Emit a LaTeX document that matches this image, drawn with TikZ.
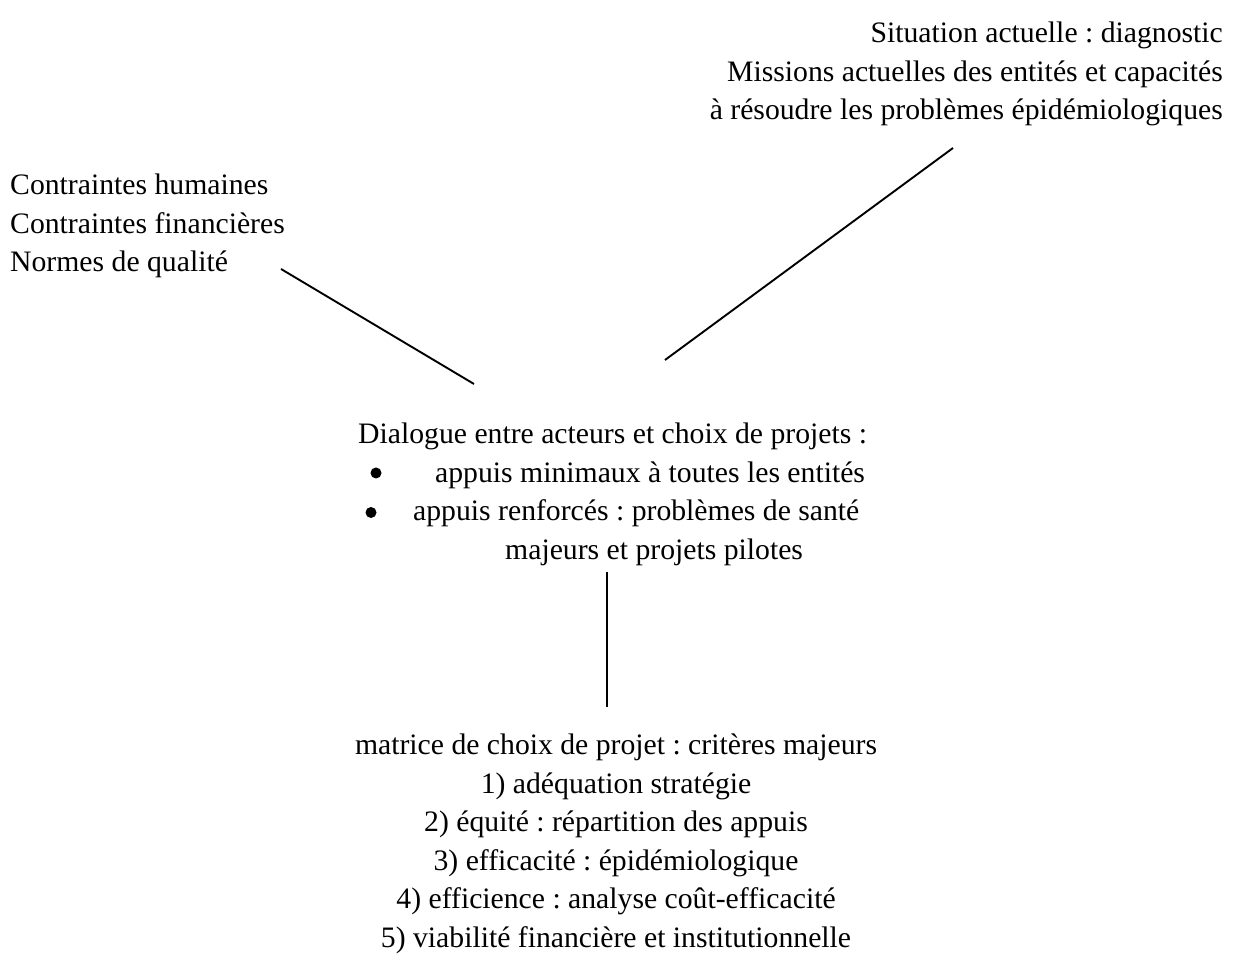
\documentclass[tikz,border=0pt]{standalone}
\usepackage{fontspec}
\setmainfont{Liberation Serif}
\frenchspacing
\begin{document}
\begin{tikzpicture}[x=1pt,y=1pt,
  txt/.style={inner sep=0pt, font=\fontsize{29.7}{38.5}\selectfont},
  link/.style={line width=1.9pt, black},
  dot/.style={circle, fill=black, inner sep=0pt, minimum size=11pt}]
\useasboundingbox (0,0) rectangle (1233,960);

% current situation (top right)
\node[txt, anchor=base east] (sit1) at (1223,917) {Situation actuelle : diagnostic};
\node[txt, anchor=base east] (sit2) at (1223,878.5) {Missions actuelles des entités et capacités};
\node[txt, anchor=base east] (sit3) at (1223,840) {à résoudre les problèmes épidémiologiques};

% constraints (left)
\node[txt, anchor=base west] (con1) at (10,765) {Contraintes humaines};
\node[txt, anchor=base west] (con2) at (10,726.5) {Contraintes financières};
\node[txt, anchor=base west] (con3) at (10,688) {Normes de qualité};

% dialogue between actors
\node[txt, anchor=base west] (dia0) at (358,516) {Dialogue entre acteurs et choix de projets :};
\node[dot] (b1) at (376,487) {};
\node[txt, anchor=base west] (dia1) at (435,477.5) {appuis minimaux à toutes les entités};
\node[dot] (b2) at (371,447.5) {};
\node[txt, anchor=base west] (dia2) at (413,439) {appuis renforcés : problèmes de santé};
\node[txt, anchor=base west] (dia3) at (505,400.5) {majeurs et projets pilotes};

% selection matrix
\node[txt, anchor=base] (mat0) at (616,205) {matrice de choix de projet : critères majeurs};
\node[txt, anchor=base] (mat1) at (616,166.5) {1) adéquation stratégie};
\node[txt, anchor=base] (mat2) at (616,128) {2) équité : répartition des appuis};
\node[txt, anchor=base] (mat3) at (616,89.5) {3) efficacité : épidémiologique};
\node[txt, anchor=base] (mat4) at (616,51) {4) efficience : analyse coût-efficacité};
\node[txt, anchor=base] (mat5) at (616,12.5) {5) viabilité financière et institutionnelle};

% connector ends
\coordinate (cA) at (281,691);
\coordinate (cB) at (474,576);
\coordinate (sA) at (953,812);
\coordinate (sB) at (665,600);
\coordinate (vA) at (607,388);
\coordinate (vB) at (607,253);

\draw[link] (cA) -- (cB);
\draw[link] (sA) -- (sB);
\draw[link] (vA) -- (vB);
\end{tikzpicture}
\end{document}
